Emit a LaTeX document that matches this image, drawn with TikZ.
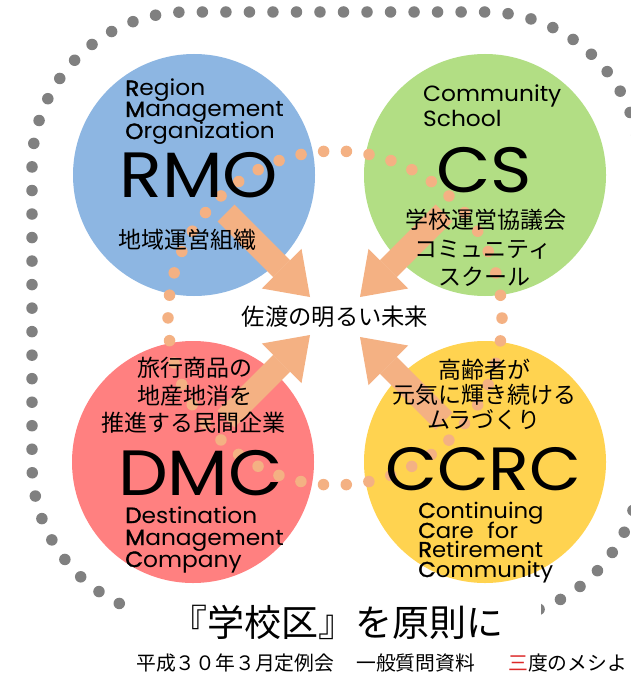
\documentclass[tikz,border=0pt]{standalone}
\usepackage{fontspec}
\usetikzlibrary{arrows.meta}
\newfontfamily\jp{Noto Sans CJK JP}
\newfontfamily\en[FakeStretch=1.06]{Poppins}
\newfontfamily\enb[FakeStretch=1.06,FakeBold=1.6]{Poppins}
\newfontfamily\enbig[FakeStretch=1.1]{Poppins}
\newcommand\fl[1]{{\enb #1}}
\definecolor{cblue}{RGB}{141,182,226}
\definecolor{cgreen}{RGB}{178,222,132}
\definecolor{cred}{RGB}{255,128,128}
\definecolor{cyellow}{RGB}{255,211,80}
\definecolor{corange}{RGB}{244,177,131}
\definecolor{cgray}{RGB}{128,128,128}
\definecolor{cfred}{RGB}{220,40,40}
\begin{document}
\begin{tikzpicture}[x=1pt,y=-1pt,
  bigcircle/.style={circle, minimum size=242pt, inner sep=0pt, draw=none},
  jptext/.style={font=\jp\fontsize{23}{28}\selectfont, inner sep=0pt, text=black},
  entext/.style={font=\en\fontsize{22}{22}\selectfont, inner sep=0pt, anchor=base west, text=black},
  ensmall/.style={font=\en\fontsize{21.5}{21.5}\selectfont, inner sep=0pt, anchor=base west, text=black},
  bigtext/.style={font=\enbig\fontsize{64}{64}\selectfont, inner sep=0pt, anchor=base west, text=black},
  bigarrow/.style={draw=corange, line width=24pt, -{Triangle[length=40pt,width=56pt,line width=0pt]}},
  graydots/.style={draw=cgray, line width=11.5pt, line cap=round, dash pattern=on 0pt off 23.52pt},
  orangedots/.style={draw=corange, line width=11.5pt, line cap=round, dash pattern=on 0pt off 22.81pt},
  foot/.style={anchor=west, inner sep=0pt, font=\jp\fontsize{19.8}{22}\selectfont},
]
\useasboundingbox (0,0) rectangle (630,679);
\fill[white] (0,0) rectangle (630,679);
% outer dotted frame
\draw[graydots, rounded corners=155pt] (32,12) rectangle (640,619);
% circles
\node[bigcircle, fill=cblue] (rmo) at (194,175) {};
\node[bigcircle, fill=cgreen] (cs) at (485,175) {};
\node[bigcircle, fill=cred] (dmc) at (193,462) {};
\node[bigcircle, fill=cyellow] (ccrc) at (485,462) {};
% orange dotted ring
\coordinate (ctr) at (335,318);
\draw[orangedots] (ctr) circle[radius=167pt];
% arrows
\coordinate (a1s) at (226,213); \coordinate (a1e) at (310,297);
\coordinate (a2s) at (444,213); \coordinate (a2e) at (360,297);
\coordinate (a3s) at (226,419); \coordinate (a3e) at (310,335);
\coordinate (a4s) at (444,421); \coordinate (a4e) at (360,337);
\draw[bigarrow] (a1s) -- (a1e);
\draw[bigarrow] (a2s) -- (a2e);
\draw[bigarrow] (a3s) -- (a3e);
\draw[bigarrow] (a4s) -- (a4e);
% RMO texts
\node[entext] (rmo1) at (125,96) {\fl{R}egion};
\node[entext] (rmo2) at (125,117) {\fl{M}anagement};
\node[entext] (rmo3) at (125,139) {\fl{O}rganization};
\node[bigtext] (rmo4) at (119,197) {RMO};
\node[jptext] (rmo5) at (187,240) {地域運営組織};
% CS texts
\node[entext] (cs1) at (423,102) {Community};
\node[entext] (cs2) at (423,127) {School};
\node[bigtext] (cs3) at (436,193) {CS};
\node[jptext] (cs4) at (486,220) {学校運営協議会};
\node[jptext] (cs5) at (483,250) {コミュニティ};
\node[jptext] (cs6) at (484,277) {スクール};
% DMC texts
\node[jptext] (dmc1) at (195,368) {旅行商品の};
\node[jptext] (dmc2) at (195,396) {地産地消を};
\node[jptext] (dmc3) at (193,423) {推進する民間企業};
\node[bigtext] (dmc4) at (118,495) {DMC};
\node[entext] (dmc5) at (125,523) {\fl{D}estination};
\node[entext] (dmc6) at (125,545) {\fl{M}anagement};
\node[entext] (dmc7) at (125,567) {\fl{C}ompany};
% CCRC texts
\node[jptext] (cc1) at (484,370) {高齢者が};
\node[jptext] (cc2) at (484,395) {元気に輝き続ける};
\node[jptext] (cc3) at (484,420) {ムラづくり};
\node[bigtext, font=\enbig\fontsize{61}{61}\selectfont] (cc4) at (385,490) {CCRC};
\node[ensmall] (cc5) at (418,518) {\fl{C}ontinuing};
\node[ensmall] (cc6) at (418,538) {\fl{C}are\hspace{0.35em} for};
\node[ensmall] (cc7) at (418,557) {\fl{R}etirement};
\node[ensmall] (cc8) at (418,577) {\fl{C}ommunity};
% centre
\node[jptext, font=\jp\fontsize{23.3}{28}\selectfont] (future) at (335,317) {佐渡の明るい未来};
% title and footer
\node[fill=white, minimum width=407pt, minimum height=50pt, inner sep=0pt,
      font=\jp\fontsize{37}{40}\selectfont] (title) at (337,622) {『学校区』を原則に};
\node[foot] (footer1) at (136,663) {平成３０年３月定例会};
\node[foot] (footer2) at (356,663) {一般質問資料};
\node[foot] (footer3) at (508,663) {\textcolor{cfred}{三}度のメシよ};
\end{tikzpicture}
\end{document}
